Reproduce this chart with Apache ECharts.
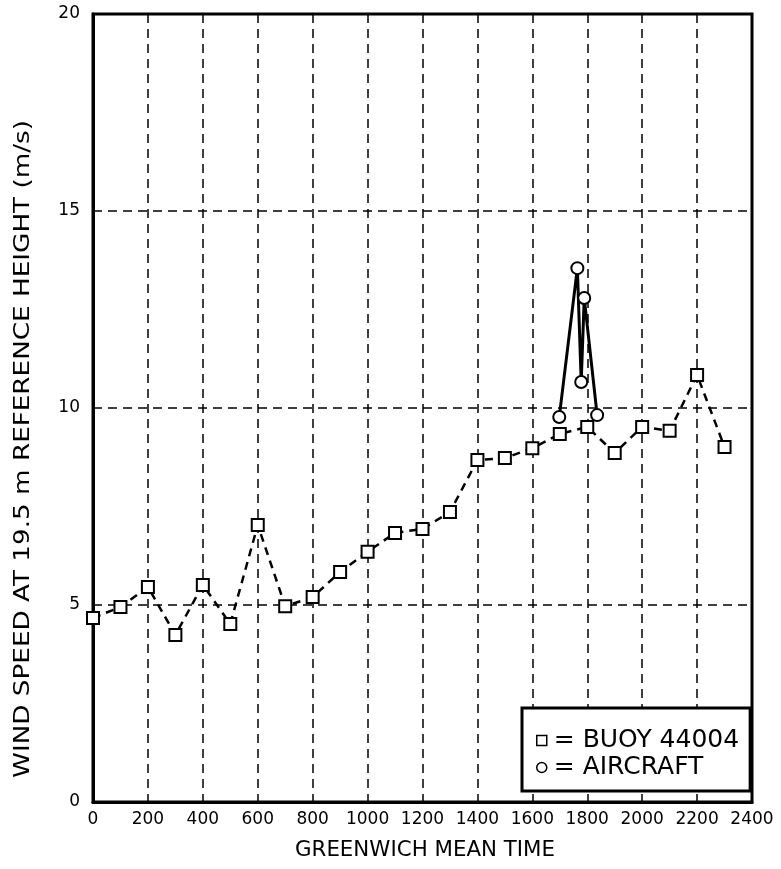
<!DOCTYPE html>
<html>
<head>
<meta charset="utf-8">
<script src="https://cdn.jsdelivr.net/npm/echarts@6/dist/echarts.min.js"></script>
<style>
html,body{margin:0;padding:0;background:#fff;}
#chart{width:781px;height:869px;}
</style>
</head>
<body>
<div id="chart"></div>
<script>
// Data
var buoyTimes  = [0,100,200,300,400,500,600,700,800,900,1000,1100,1200,1300,1400,1500,1600,1700,1800,1900,2000,2100,2200,2300];
var buoyValues = [4.67,4.95,5.46,4.24,5.51,4.52,7.03,4.97,5.2,5.84,6.35,6.83,6.93,7.36,8.68,8.73,8.98,9.34,9.52,8.86,9.52,9.42,10.84,9.01];
var aircraftTimes  = [1698,1764,1778,1789,1836];
var aircraftValues = [9.77,13.55,10.66,12.79,9.82];
var xTicks = [0,200,400,600,800,1000,1200,1400,1600,1800,2000,2200,2400];
var yTicks = [0,5,10,15,20];
var buoyName = 'BUOY 44004';
var aircraftName = 'AIRCRAFT';
var xTitle = 'GREENWICH MEAN TIME';
var yTitle = 'WIND SPEED AT 19.5 m REFERENCE HEIGHT (m/s)';

function pairs(xs, ys){ return xs.map(function(x,i){ return [x, ys[i]]; }); }

var TITLE_FONT_SIZE = 21;
var TITLE_FONT = TITLE_FONT_SIZE + "px 'DejaVu Sans', sans-serif";
function textWidth(t, font){
  var c = document.createElement('canvas').getContext('2d');
  c.font = font; return c.measureText(t).width;
}
var xTitleScale = 260 / textWidth(xTitle, TITLE_FONT);
var yTitleScale = 658 / textWidth(yTitle, TITLE_FONT);

var chart = echarts.init(document.getElementById('chart'), null, {renderer:'canvas'});
chart.setOption({
  animation:false,
  backgroundColor:'#fff',
  grid:{left:93, top:14, right:29, bottom:67, show:true, borderColor:'#000', borderWidth:3, backgroundColor:'transparent'},
  xAxis:{
    type:'value', min:xTicks[0], max:xTicks[xTicks.length-1], interval:200,
    axisLine:{show:true, lineStyle:{color:'#000', width:3}},
    axisTick:{show:false},
    axisLabel:{fontFamily:"'DejaVu Sans',sans-serif", fontSize:17, color:'#000', margin:9,
      formatter:function(v){ return String(v); }},
    splitLine:{show:true, lineStyle:{color:'#000', width:1.5, type:[9,6]}}
  },
  yAxis:{
    type:'value', min:yTicks[0], max:yTicks[yTicks.length-1], interval:5,
    axisLine:{show:true, lineStyle:{color:'#000', width:3}},
    axisTick:{show:false},
    axisLabel:{fontFamily:"'DejaVu Sans',sans-serif", fontSize:17, color:'#000', margin:13},
    splitLine:{show:true, lineStyle:{color:'#000', width:1.5, type:[9,6]}}
  },
  graphic:[
    {type:'text', x:425, y:851, scaleX:xTitleScale, z:10,
      style:{text:xTitle, font:TITLE_FONT, fill:'#000', textAlign:'center', textVerticalAlign:'middle'}},
    {type:'text', x:24, y:449, rotation:Math.PI/2, scaleX:yTitleScale, z:10,
      style:{text:yTitle, font:TITLE_FONT, fill:'#000', textAlign:'center', textVerticalAlign:'middle'}}
  ],
  legend:{
    orient:'vertical', left:522, top:708,
    padding:[20,11,11,14], itemGap:2,
    backgroundColor:'#fff', borderColor:'#000', borderWidth:3,
    itemWidth:10, itemHeight:10,
    formatter:function(n){ return '= ' + n; },
    textStyle:{fontFamily:"'DejaVu Sans',sans-serif", fontSize:25, lineHeight:25, color:'#000', padding:[0,0,0,2]},
    data:[
      {name:buoyName, icon:'rect', itemStyle:{color:'#fff', borderColor:'#000', borderWidth:1.5}},
      {name:aircraftName, icon:'circle', itemStyle:{color:'#fff', borderColor:'#000', borderWidth:1.5}}
    ]
  },
  series:[
    {
      name:buoyName, type:'line', data:pairs(buoyTimes, buoyValues),
      symbol:'rect', symbolSize:12,
      itemStyle:{color:'#fff', borderColor:'#000', borderWidth:2},
      lineStyle:{color:'#000', width:2.5, type:[8,6]},
      z:3
    },
    {
      name:aircraftName, type:'line', data:pairs(aircraftTimes, aircraftValues),
      symbol:'circle', symbolSize:12,
      itemStyle:{color:'#fff', borderColor:'#000', borderWidth:2},
      lineStyle:{color:'#000', width:3, type:'solid'},
      z:4
    }
  ]
});
</script>
</body>
</html>
